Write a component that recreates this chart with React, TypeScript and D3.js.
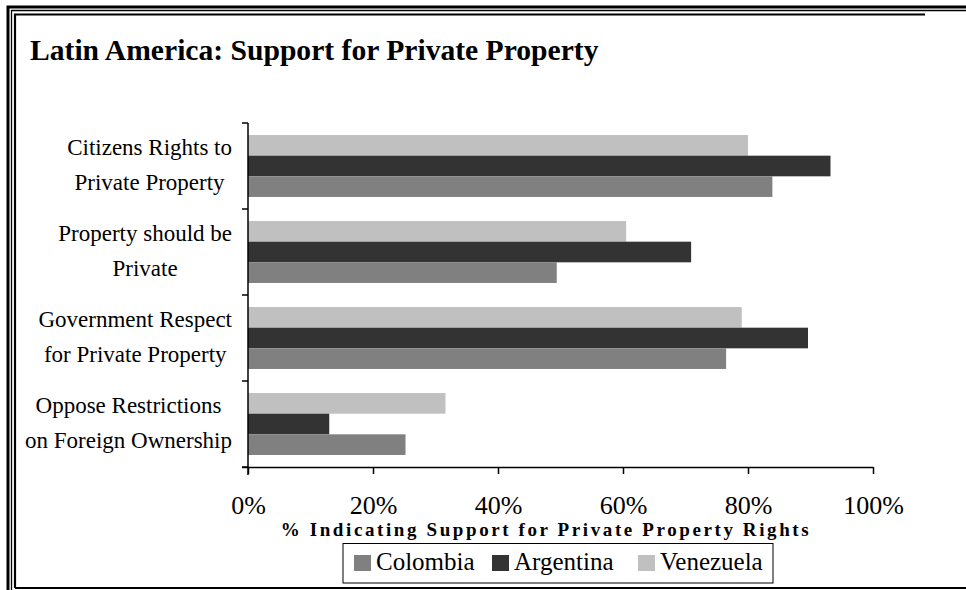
import React, { useEffect, useRef } from "react";
import * as d3 from "d3";

const categories = [
  "Citizens Rights to Private Property",
  "Property should be Private",
  "Government Respect for Private Property",
  "Oppose Restrictions on Foreign Ownership",
];
const categoryLines = [
  ["Citizens Rights to", "Private Property"],
  ["Property should be", "Private"],
  ["Government Respect", "for Private Property"],
  ["Oppose Restrictions", "on Foreign Ownership"],
];
const seriesNames = ["Colombia", "Argentina", "Venezuela"];
const colombia = [83.9, 49.4, 76.5, 25.2];
const argentina = [93.2, 70.9, 89.6, 13.0];
const venezuela = [80.0, 60.5, 79.0, 31.6];
const xTicks = [0, 20, 40, 60, 80, 100];
const title = "Latin America: Support for Private Property";
const xTitle = "% Indicating Support for Private Property Rights";

const colors: Record<string, string> = {
  Colombia: "#808080",
  Argentina: "#333333",
  Venezuela: "#c0c0c0",
};
const FONT = "'Liberation Serif', 'Times New Roman', serif";

export default function App() {
  const ref = useRef<SVGSVGElement | null>(null);
  useEffect(() => {
    const svg = d3.select(ref.current);
    svg.selectAll("*").remove();
    const W = 966, H = 590;
    svg.append("rect").attr("width", W).attr("height", H).attr("fill", "#fff");

    // frame
    const fr = svg.append("g").attr("fill", "none").attr("stroke", "#000");
    fr.append("path").attr("d", `M8,${H + 5}V7H${W + 5}`).attr("stroke-width", 3);
    fr.append("path").attr("d", `M11.5,${H + 5}V10.5H${W + 5}`).attr("stroke-width", 1.3);
    fr.append("path").attr("d", `M15,588V14.5H925`).attr("stroke-width", 2.2);
    fr.append("path").attr("d", `M15,588H${W + 5}`).attr("stroke-width", 2.2);

    // title
    svg.append("text").attr("x", 30).attr("y", 60).attr("font-family", FONT)
      .attr("font-weight", "bold").attr("font-size", 29.6).attr("fill", "#000").text(title);

    const x = d3.scaleLinear().domain([0, 100]).range([248, 873]);
    const y0 = d3.scaleBand<string>().domain(categories).range([123, 467]);
    const order = ["Venezuela", "Argentina", "Colombia"];
    const bw = y0.bandwidth();
    const y1 = d3.scaleBand<string>().domain(order).range([bw * 0.14, bw * 0.86]);
    const values: Record<string, number[]> = { Colombia: colombia, Argentina: argentina, Venezuela: venezuela };

    const g = svg.append("g");
    categories.forEach((c, i) => {
      order.forEach((s) => {
        g.append("rect")
          .attr("x", x(0))
          .attr("y", (y0(c) as number) + (y1(s) as number))
          .attr("width", x(values[s][i]) - x(0))
          .attr("height", y1.bandwidth())
          .attr("fill", colors[s]);
      });
    });

    // x axis
    const xa = svg.append("g").attr("transform", "translate(0,467)")
      .call(d3.axisBottom(x).tickValues(xTicks).tickSize(7).tickFormat((d) => `${d}%`));
    xa.select(".domain").attr("d", `M242,0.5H${x(100)}`).attr("stroke", "#000").attr("stroke-width", 1.5);
    xa.selectAll(".tick line").attr("stroke", "#000").attr("stroke-width", 1.5);
    xa.selectAll(".tick text").attr("font-family", FONT).attr("font-size", 26).attr("fill", "#000")
      .attr("y", 47).attr("dy", 0);

    // y axis
    const ya = svg.append("g").attr("transform", "translate(248,0)");
    ya.append("line").attr("x1", 0).attr("x2", 0).attr("y1", 123).attr("y2", 475)
      .attr("stroke", "#000").attr("stroke-width", 1.5);
    const yTicks = categories.map((c) => y0(c) as number).concat([467]);
    yTicks.forEach((t) => {
      ya.append("line").attr("x1", -6).attr("x2", 0).attr("y1", t).attr("y2", t)
        .attr("stroke", "#000").attr("stroke-width", 1.5);
    });

    // category labels
    categories.forEach((c, i) => {
      const cy = (y0(c) as number) + bw / 2;
      const lines = categoryLines[i];
      const tg = svg.append("g");
      const texts = lines.map((l, j) =>
        tg.append("text").attr("font-family", FONT).attr("font-size", 23).attr("fill", "#000")
          .attr("text-anchor", "middle").attr("y", cy - 11 + j * 35).text(l)
      );
      const widths = texts.map((t) => (t.node() as SVGTextElement).getComputedTextLength());
      const bwid = Math.max(...widths);
      const cx = 232 - bwid / 2;
      texts.forEach((t) => t.attr("x", cx));
    });

    // x title
    svg.append("text").attr("x", 546).attr("y", 536).attr("text-anchor", "middle")
      .attr("font-family", FONT).attr("font-weight", "bold").attr("font-size", 19)
      .attr("letter-spacing", 2.6).attr("fill", "#000").text(xTitle);

    // legend
    const lg = svg.append("g");
    lg.append("rect").attr("x", 343).attr("y", 543.5).attr("width", 430).attr("height", 39.5)
      .attr("fill", "#fff").attr("stroke", "#000").attr("stroke-width", 1);
    const lx = [354, 492, 638];
    seriesNames.forEach((s, i) => {
      lg.append("rect").attr("x", lx[i]).attr("y", 555).attr("width", 17).attr("height", 16).attr("fill", colors[s]);
      lg.append("text").attr("x", lx[i] + 22).attr("y", 570).attr("font-family", FONT)
        .attr("font-size", 25).attr("fill", "#000").text(s);
    });
  }, []);
  return (
    <svg ref={ref} width={966} height={590} style={{ position: "absolute", left: 0, top: 0 }} />
  );
}
